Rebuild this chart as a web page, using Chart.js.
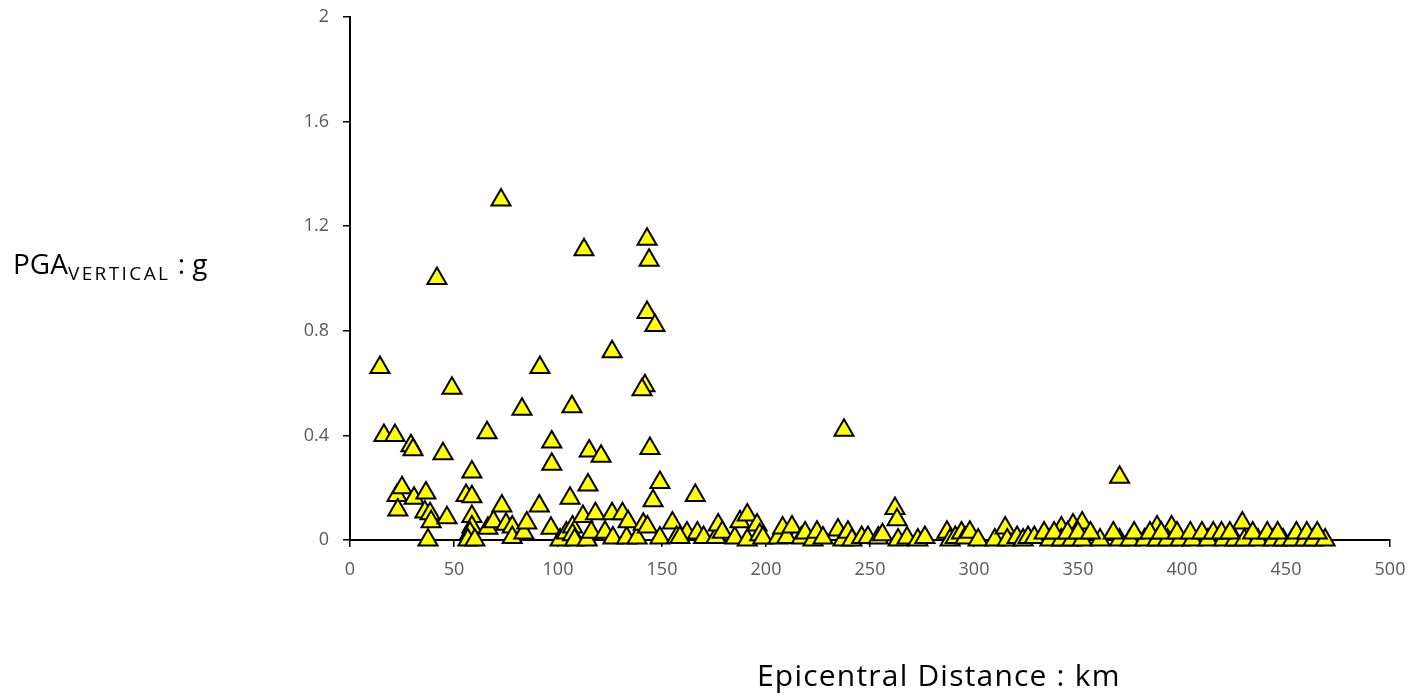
<!DOCTYPE html>
<html>
<head>
<meta charset="utf-8">
<script src="https://cdn.jsdelivr.net/npm/chart.js@4"></script>
<style>
    html, body { margin: 0; padding: 0; background: #fff; }
    #wrap { position: relative; width: 1417px; height: 696px; }
    #ytitle { position: absolute; left: 13px; top: 244px; font: 28px "Open Sans", sans-serif; color: #000; white-space: nowrap; }
    #ytitle sub { font-size: 19px; letter-spacing: 2.4px; vertical-align: -6px; }
    #xtitle { position: absolute; left: 757px; top: 654px; font: 30px "Open Sans", sans-serif; letter-spacing: 1.2px; color: #000; white-space: nowrap; }
</style>
</head>
<body>
<div id="wrap">
    <canvas id="chart" width="1417" height="696"></canvas>
    <div id="ytitle">PGA<sub>VERTICAL</sub> : g</div>
    <div id="xtitle">Epicentral Distance : km</div>
</div>
<script>
// Epicentral distance (km) and vertical PGA (g)
const distance = [
    72.6, 41.8, 112.5, 142.8, 143.8, 142.8, 146.6, 126, 14.4, 91.3,
    49, 141.8, 140.4, 82.7, 106.7, 16.3, 21.6, 29.3, 30.3, 44.7,
    65.9, 97, 97, 115, 120.7, 144.2, 237.5, 370, 58.6, 149,
    114.4, 166, 22.6, 25, 30.8, 36.5, 55.8, 58.6, 73, 91,
    105.8, 145.7, 23, 36, 38.5, 39, 46.6, 58.6, 58.6, 57.7,
    56.7, 60, 37.5, 66.3, 69, 75, 78, 78, 83.6, 85,
    96.6, 101, 104, 107, 107, 108, 112, 114, 116, 118,
    122.6, 126, 126.4, 131, 133, 133.7, 138, 141, 143, 149,
    155, 157, 162, 167,
    262, 263, 158.6, 170, 176, 177, 179, 185, 187.5, 191,
    191, 195.7, 197, 198.5, 205.8, 208, 210, 212.5, 217, 218.8,
    222.6, 224.5, 227.4, 234.6, 237, 239.4, 241.3, 246, 249, 254,
    256, 263.5, 267.8, 273, 276.4, 287, 288.5, 291, 294, 295.7,
    298, 302, 310, 315, 316, 320.7, 323.6, 326, 329,
    342, 347.6, 352, 388, 395, 429,
    336.5, 342, 347, 352, 360.6, 370, 375, 382, 388, 393,
    399, 405, 412.5, 420, 425.5, 430, 436.5, 443.8, 448.6, 453,
    459, 463, 468.8,
    333.7, 338.5, 345, 350, 356, 367, 377, 384.6, 390, 397.6,
    404, 409.6, 415, 419, 423, 434, 441, 446, 455, 460, 465
];
const pga = [
    1.30, 1.00, 1.11, 1.15, 1.07, 0.87, 0.82, 0.72, 0.66, 0.66,
    0.58, 0.59, 0.575, 0.50, 0.51, 0.40, 0.40, 0.36, 0.345, 0.33,
    0.41, 0.375, 0.29, 0.34, 0.32, 0.35, 0.42, 0.24, 0.26, 0.22,
    0.21, 0.17, 0.17, 0.20, 0.16, 0.18, 0.17, 0.165, 0.13, 0.13,
    0.16, 0.15, 0.115, 0.107, 0.10, 0.07, 0.085, 0.09, 0.05, 0.027,
    0, 0, 0, 0.045, 0.07, 0.06, 0.05, 0.01, 0.027, 0.065,
    0.045, 0, 0.027, 0.05, 0.02, 0, 0.09, 0, 0.03, 0.10,
    0.03, 0.10, 0.008, 0.10, 0.008, 0.07, 0.008, 0.06, 0.05, 0.008,
    0.065, 0.01, 0.027, 0.027,
    0.12, 0.077, 0.01, 0.01, 0.01, 0.057, 0.03, 0.008, 0.07, 0.096,
    0, 0.057, 0.02, 0.008, 0.008, 0.046, 0.01, 0.05, 0.008, 0.027,
    0, 0.03, 0.008, 0.038, 0, 0.03, 0, 0.01, 0.01, 0.008,
    0.02, 0, 0.008, 0, 0.01, 0.03, 0, 0.01, 0.027, 0.008,
    0.03, 0, 0, 0.046, 0, 0.01, 0, 0.01, 0.01,
    0.046, 0.057, 0.065, 0.05, 0.05, 0.065,
    0, 0, 0, 0, 0, 0, 0, 0, 0, 0,
    0, 0, 0, 0, 0, 0, 0, 0, 0, 0,
    0, 0, 0,
    0.027, 0.027, 0.027, 0.027, 0.027, 0.027, 0.027, 0.027, 0.027, 0.027,
    0.027, 0.027, 0.027, 0.027, 0.027, 0.027, 0.027, 0.027, 0.027, 0.027, 0.027
];
const xMin = 0, xMax = 500, xStep = 50;
const yMin = 0, yMax = 2, yStep = 0.4;

const points = distance.map((d, i) => ({ x: d, y: pga[i] }));

const tickFont = { family: '"Open Sans", sans-serif', size: 18 };

new Chart(document.getElementById('chart'), {
    type: 'scatter',
    data: {
        datasets: [{
            data: points,
            pointStyle: 'triangle',
            pointRadius: 11,
            pointHoverRadius: 11,
            backgroundColor: '#FFFF00',
            borderColor: '#000000',
            borderWidth: 2,
            clip: false
        }]
    },
    options: {
        responsive: false,
        animation: false,
        layout: { padding: { left: 0, right: 27, top: 17, bottom: 0 } },
        plugins: { legend: { display: false }, tooltip: { enabled: false } },
        scales: {
            x: {
                type: 'linear',
                min: xMin, max: xMax,
                afterFit: s => { s.height = 156; s.paddingRight = 0; },
                ticks: { stepSize: xStep, color: '#595959', font: tickFont, padding: 12, maxRotation: 0 },
                grid: { drawOnChartArea: false, tickLength: 7, color: '#000', lineWidth: 1.5 },
                border: { color: '#000', width: 2 }
            },
            y: {
                min: yMin, max: yMax,
                afterFit: s => { s.width = 350; s.paddingTop = 0; s.paddingBottom = 0; },
                ticks: {
                    stepSize: yStep, color: '#595959', font: tickFont, padding: 14,
                    callback: v => String(Math.round(v * 10) / 10)
                },
                grid: { drawOnChartArea: false, tickLength: 7, color: '#000', lineWidth: 1.5 },
                border: { color: '#000', width: 2 }
            }
        }
    }
});
</script>
</body>
</html>
